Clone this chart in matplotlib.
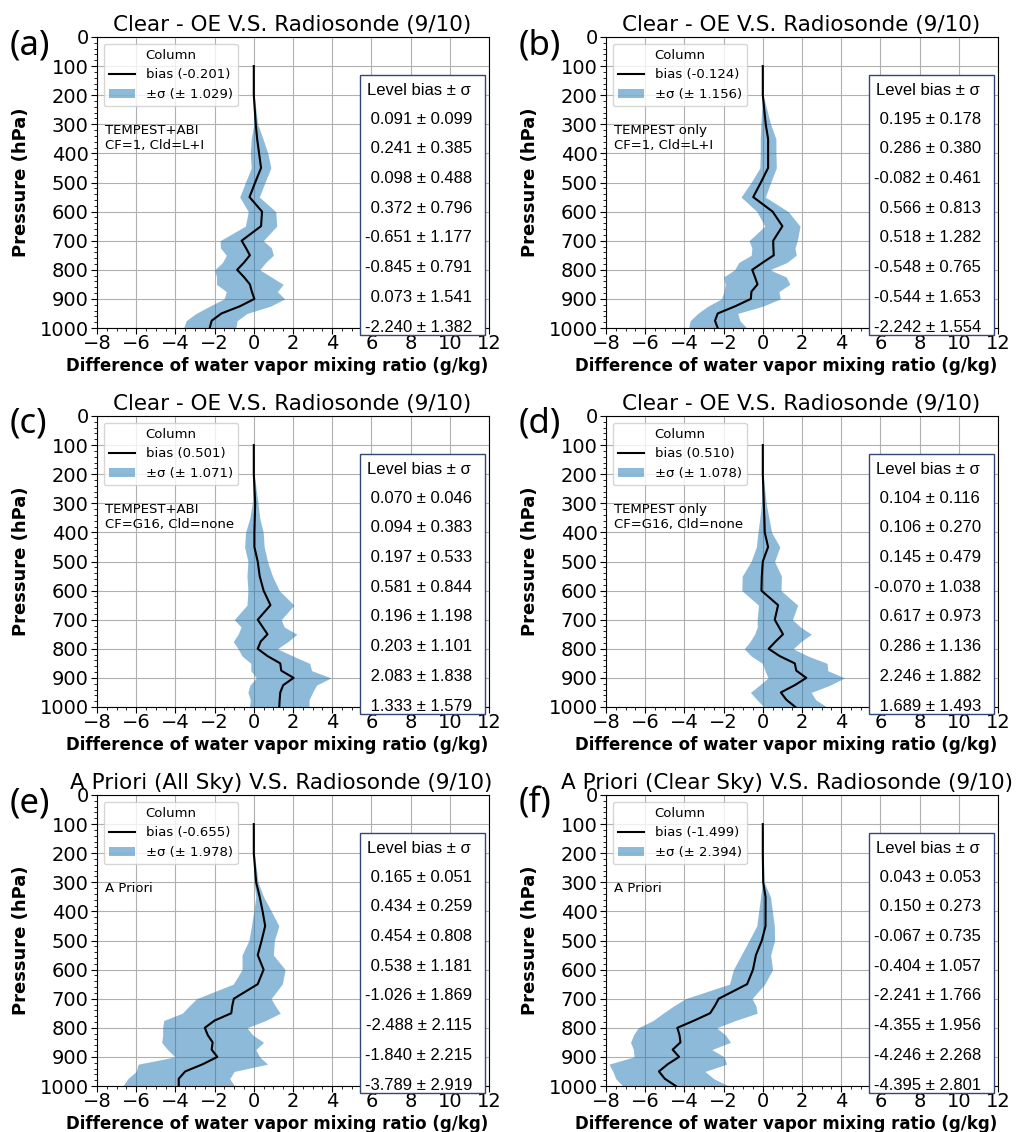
import numpy as np
import matplotlib
matplotlib.use("Agg")
import matplotlib.pyplot as plt
from matplotlib.ticker import MultipleLocator
from matplotlib.patches import Rectangle

# Pressure levels (hPa)
pressure = [100, 200, 300, 350, 400, 450, 500, 550, 600, 650, 700, 725, 750,
            775, 800, 825, 850, 875, 900, 925, 950, 975, 1000]

# Bias profiles (g/kg)
bias_a = [0, 0, 0.1, 0.17, 0.27, 0.37, 0.07, -0.22, 0.42, 0.37, -0.62, -0.4, -0.2,
          -0.5, -0.85, -0.5, -0.2, -0.1, 0.03, -0.7, -1.65, -2.15, -2.25]
bias_b = [0, 0, 0.15, 0.27, 0.27, 0.27, -0.1, -0.49, 0.5, 1.0, 0.53, 0.54, 0.56,
          0.0, -0.54, -0.4, -0.27, -0.58, -0.61, -1.4, -2.3, -2.44, -2.3]
bias_c = [0, 0, 0.07, 0.05, 0.03, 0.03, 0.2, 0.3, 0.5, 0.85, 0.2, 0.45, 0.7,
          0.35, 0.2, 0.7, 1.35, 1.4, 2.03, 1.5, 1.35, 1.32, 1.3]
bias_d = [0, 0, 0.05, 0.08, 0.1, 0.27, 0.0, -0.05, -0.07, 0.78, 0.61, 0.82, 1.03,
          0.65, 0.3, 0.86, 1.63, 1.71, 2.22, 1.63, 0.92, 1.2, 1.66]
bias_e = [0, 0, 0.12, 0.3, 0.45, 0.58, 0.4, 0.2, 0.5, 0.2, -1.02, -1.1, -1.15,
          -2.0, -2.5, -2.35, -2.1, -2.15, -1.86, -2.6, -3.5, -3.83, -3.83]
bias_f = [0, 0, 0.02, 0.14, 0.14, 0.14, -0.05, -0.35, -0.5, -0.8, -2.25, -2.45, -2.69,
          -3.5, -4.36, -4.25, -4.2, -4.6, -4.27, -4.85, -5.3, -5.0, -4.44]

# Standard deviation profiles (g/kg)
std_a = [0, 0.02, 0.1, 0.3, 0.45, 0.5, 0.5, 0.5, 0.7, 0.8, 1.1, 1.3, 1.2,
         1.1, 1.15, 1.4, 1.7, 1.3, 1.55, 1.55, 1.3, 1.3, 1.33]
std_b = [0, 0.02, 0.25, 0.4, 0.4, 0.42, 0.5, 0.62, 0.8, 0.9, 1.23, 1.1, 1.15,
         1.23, 0.9, 1.6, 1.65, 1.4, 1.5, 1.4, 1.02, 1.27, 1.48]
std_c = [0, 0.02, 0.15, 0.25, 0.45, 0.5, 0.5, 0.65, 0.8, 1.2, 1.2, 1.1, 1.5,
         1.4, 1.0, 1.3, 1.5, 1.55, 1.9, 1.7, 1.65, 1.5, 1.52]
std_d = [0, 0.02, 0.12, 0.23, 0.35, 0.6, 0.6, 1.0, 1.0, 1.0, 0.9, 1.1, 1.45,
         1.3, 1.25, 1.45, 1.65, 1.6, 1.95, 1.8, 1.55, 1.5, 1.6]
std_e = [0, 0.02, 0.1, 0.2, 0.45, 0.7, 0.65, 0.8, 1.1, 1.25, 1.9, 2.2, 2.5,
         2.6, 2.15, 2.3, 2.6, 2.25, 2.16, 3.3, 2.5, 2.6, 2.85]
std_f = [0, 0.02, 0.05, 0.25, 0.35, 0.45, 0.65, 0.75, 1.0, 0.9, 1.7, 2.1, 2.4,
         2.1, 2.0, 2.35, 2.55, 2.0, 2.3, 3.0, 2.35, 2.5, 2.7]

# Column statistics for legends
col_bias = [-0.201, -0.124, 0.501, 0.510, -0.655, -1.499]
col_std = [1.029, 1.156, 1.071, 1.078, 1.978, 2.394]

# Level statistics tables
lev_bias_a = [0.091, 0.241, 0.098, 0.372, -0.651, -0.845, 0.073, -2.240]
lev_std_a = [0.099, 0.385, 0.488, 0.796, 1.177, 0.791, 1.541, 1.382]
lev_bias_b = [0.195, 0.286, -0.082, 0.566, 0.518, -0.548, -0.544, -2.242]
lev_std_b = [0.178, 0.380, 0.461, 0.813, 1.282, 0.765, 1.653, 1.554]
lev_bias_c = [0.070, 0.094, 0.197, 0.581, 0.196, 0.203, 2.083, 1.333]
lev_std_c = [0.046, 0.383, 0.533, 0.844, 1.198, 1.101, 1.838, 1.579]
lev_bias_d = [0.104, 0.106, 0.145, -0.070, 0.617, 0.286, 2.246, 1.689]
lev_std_d = [0.116, 0.270, 0.479, 1.038, 0.973, 1.136, 1.882, 1.493]
lev_bias_e = [0.165, 0.434, 0.454, 0.538, -1.026, -2.488, -1.840, -3.789]
lev_std_e = [0.051, 0.259, 0.808, 1.181, 1.869, 2.115, 2.215, 2.919]
lev_bias_f = [0.043, 0.150, -0.067, -0.404, -2.241, -4.355, -4.246, -4.395]
lev_std_f = [0.053, 0.273, 0.735, 1.057, 1.766, 1.956, 2.268, 2.801]

titles = ["Clear - OE V.S. Radiosonde (9/10)"] * 4 + [
    "A Priori (All Sky) V.S. Radiosonde (9/10)",
    "A Priori (Clear Sky) V.S. Radiosonde (9/10)"]
title_x = [0.497, 0.499, 0.497, 0.499, 0.469, 0.461]
notes = ["TEMPEST+ABI\nCF=1, Cld=L+I", "TEMPEST only\nCF=1, Cld=L+I",
         "TEMPEST+ABI\nCF=G16, Cld=none", "TEMPEST only\nCF=G16, Cld=none",
         "A Priori", "A Priori"]
letters = ["(a)", "(b)", "(c)", "(d)", "(e)", "(f)"]

biases = [bias_a, bias_b, bias_c, bias_d, bias_e, bias_f]
stds = [std_a, std_b, std_c, std_d, std_e, std_f]
lev_biases = [lev_bias_a, lev_bias_b, lev_bias_c, lev_bias_d, lev_bias_e, lev_bias_f]
lev_stds = [lev_std_a, lev_std_b, lev_std_c, lev_std_d, lev_std_e, lev_std_f]

W, H = 1029, 1132
fig = plt.figure(figsize=(W / 100, H / 100), dpi=100)

lefts = [97, 606]
tops = [37, 416, 795]
aw, ah = 392, 291
fill_color = (0.122, 0.467, 0.706, 0.5)

for i in range(6):
    r, c = divmod(i, 2)
    l = lefts[c] / W
    b = 1 - (tops[r] + ah) / H
    ax = fig.add_axes([l, b, aw / W, ah / H])
    p = np.array(pressure, dtype=float)
    bi = np.array(biases[i])
    sd = np.array(stds[i])
    fb = ax.fill_betweenx(p, bi - sd, bi + sd, color=fill_color, linewidth=0,
                          label="±σ (± %.3f)" % col_std[i])
    ln, = ax.plot(bi, p, color="black", lw=1.5,
                  label="bias (%.3f)" % col_bias[i])
    ax.set_xlim(-8, 12)
    ax.set_ylim(1000, 0)
    ax.set_xticks(np.arange(-8, 13, 2))
    ax.set_yticks(np.arange(0, 1001, 100))
    ax.yaxis.set_minor_locator(MultipleLocator(20))
    ax.xaxis.set_minor_locator(MultipleLocator(0.5))
    ax.tick_params(axis="x", which="major", labelsize=14, length=4, pad=0.5)
    ax.tick_params(axis="y", which="major", labelsize=14, length=4, pad=2)
    ax.tick_params(axis="both", which="minor", length=2)
    ax.grid(True, which="major", color="#b0b0b0", lw=0.8)
    ax.set_axisbelow(True)
    ax.set_title(titles[i], fontsize=15.5, pad=4.5, x=title_x[i])
    ax.set_ylabel("Pressure (hPa)", fontsize=13, fontweight="bold")
    ax.yaxis.set_label_coords(-0.172, 0.5)
    ax.set_xlabel("Difference of water vapor mixing ratio (g/kg)", fontsize=12,
                  fontweight="bold")
    ax.xaxis.set_label_coords(0.46, -0.10)
    leg = ax.legend(handles=[ln, fb], loc="upper left", title="Column",
                    fontsize=9.5, title_fontsize=9.5)
    ax.text(0.02, 0.70, notes[i], transform=ax.transAxes, fontsize=9.5,
            va="top", ha="left")
    # level statistics box
    rect = Rectangle((0.671, -0.024), 0.319, 0.893, transform=ax.transAxes,
                     facecolor="white", edgecolor="#34457a", lw=1.0,
                     clip_on=False, zorder=5)
    ax.add_patch(rect)
    ax.text(0.821, 0.8155, "Level bias ± σ", transform=ax.transAxes,
            fontsize=12, family="Liberation Sans", ha="center", va="center",
            zorder=6)
    for k in range(8):
        s = "%6.3f ± %.3f" % (lev_biases[i][k], lev_stds[i][k])
        ax.text(0.821, 0.718 - 0.1021 * k, s, transform=ax.transAxes,
                fontsize=12, family="Liberation Sans", ha="center",
                va="center", zorder=6)
    # panel letter
    fig.text((lefts[c] - 87) / W, 1 - (tops[r] + 8) / H, letters[i],
             fontsize=25, family="Noto Sans", ha="left", va="center")

fig.savefig("out.png", dpi=100)
